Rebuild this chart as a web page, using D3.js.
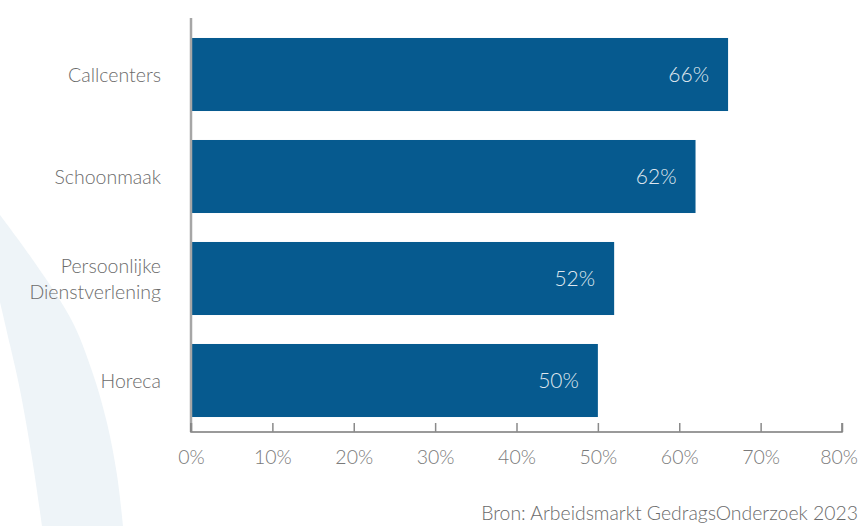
<!DOCTYPE html>
<html>
<head>
<meta charset="utf-8">
<script src="https://cdn.jsdelivr.net/npm/d3@7"></script>
<style>
  body { margin: 0; background: #fff; }
  text { font-family: Lato, "Open Sans", sans-serif; font-weight: 300; }
</style>
</head>
<body>
<div id="chart"></div>
<script>
const categories = ['Callcenters', 'Schoonmaak', 'Persoonlijke\nDienstverlening', 'Horeca'];
const values = [66, 62, 52, 50];
const ticks = [0, 10, 20, 30, 40, 50, 60, 70, 80];
const source = 'Bron: Arbeidsmarkt GedragsOnderzoek 2023';

// background decoration (light arc on the left)
const arcOuter = [[0, 215], [35, 263], [72, 321], [92, 371], [107, 423], [117, 475], [123, 526]];
const arcInner = [[42, 526], [32, 458], [20, 390], [10, 345], [0, 302]];

const width = 859, height = 526;

const svg = d3.select('#chart')
    .append('svg')
    .attr('width', width)
    .attr('height', height);

const curve = d3.line().curve(d3.curveCatmullRom);
svg.append('path')
    .attr('d', curve(arcOuter) + 'L' + curve(arcInner).slice(1) + 'L0,215Z')
    .attr('fill', '#eef4f8');

const x = d3.scaleLinear()
    .domain([0, 80])
    .range([191, 842]);

const y = d3.scaleBand()
    .domain(categories)
    .range([23.5, 431.5])
    .paddingInner(0.284)
    .paddingOuter(0.142);

// bars
svg.selectAll('rect.bar')
    .data(values)
    .enter()
    .append('rect')
    .attr('class', 'bar')
    .attr('x', x(0))
    .attr('y', (d, i) => y(categories[i]))
    .attr('width', d => x(d) - x(0))
    .attr('height', y.bandwidth())
    .attr('fill', '#065a8f');

// value labels
svg.selectAll('text.val')
    .data(values)
    .enter()
    .append('text')
    .attr('class', 'val')
    .attr('x', d => x(d) - 19)
    .attr('y', (d, i) => y(categories[i]) + y.bandwidth() / 2)
    .attr('dy', '0.36em')
    .attr('text-anchor', 'end')
    .attr('font-size', '21px')
    .attr('fill', '#dfe6ee')
    .text(d => d + '%');

// vertical axis line
svg.append('line')
    .attr('x1', x(0)).attr('x2', x(0))
    .attr('y1', 18).attr('y2', 432)
    .attr('stroke', '#a6a6a6')
    .attr('stroke-width', 2.5);

// category labels
categories.forEach(function(c) {
    const lines = c.split('\n');
    const t = svg.append('text')
        .attr('text-anchor', 'end')
        .attr('font-size', '19.5px')
        .attr('fill', '#6b6b6b');
    lines.forEach(function(l, j) {
        t.append('tspan')
            .attr('x', 161)
            .attr('y', y(c) + y.bandwidth() / 2 + (j - (lines.length - 1) / 2) * 26)
            .attr('dy', '0.36em')
            .text(l);
    });
});

// x axis
const xAxis = svg.append('g')
    .attr('transform', 'translate(0, 432)')
    .call(d3.axisBottom(x).tickValues(ticks).tickSize(-9).tickPadding(18).tickFormat(d => d + '%'));

xAxis.select('.domain')
    .attr('d', `M${x(0)},-9V0H${x(80)}V-9`)
    .attr('stroke', '#7a7a7a')
    .attr('stroke-width', 1.5);
xAxis.selectAll('.tick line')
    .attr('stroke', '#8a8a8a')
    .attr('stroke-width', 1.5);
xAxis.selectAll('.tick text')
    .attr('font-family', 'Lato, "Open Sans", sans-serif')
    .attr('font-size', '19.5px')
    .attr('fill', '#7a7a7a');

// keep the last tick label inside the page
xAxis.selectAll('.tick text')
    .filter(d => d === 80)
    .attr('text-anchor', 'end')
    .attr('x', width - 1.5 - x(80));

// source
svg.append('text')
    .attr('x', 858)
    .attr('y', 520)
    .attr('text-anchor', 'end')
    .attr('font-size', '19.4px')
    .attr('fill', '#6b6b6b')
    .text(source);
</script>
</body>
</html>
